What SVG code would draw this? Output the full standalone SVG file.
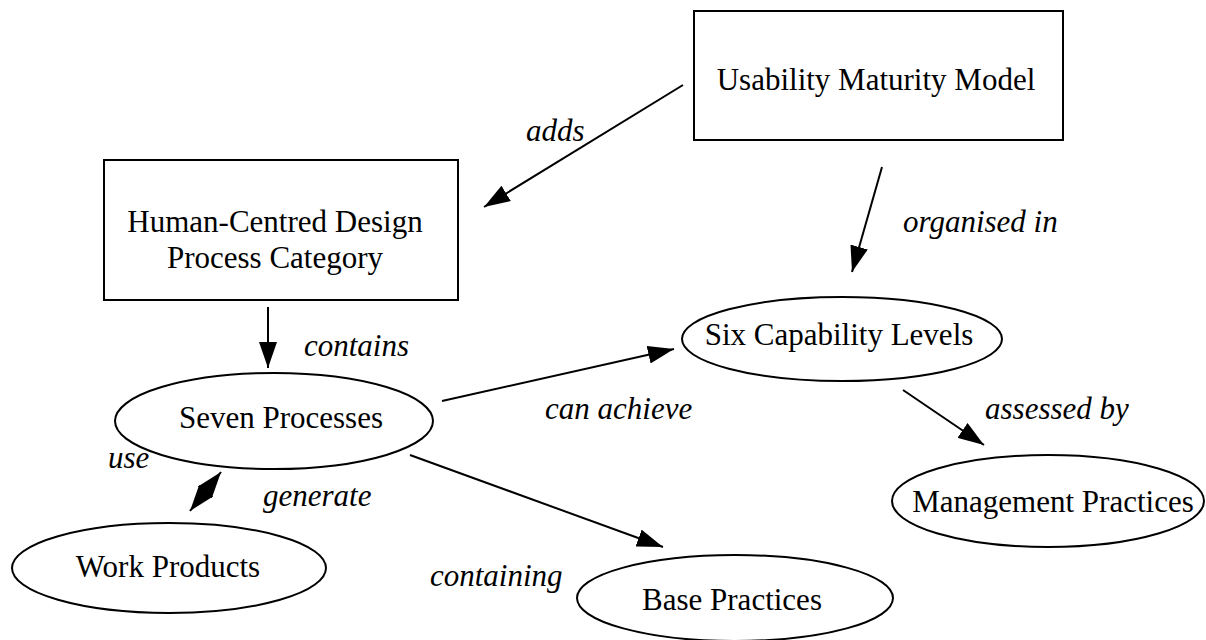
<svg xmlns="http://www.w3.org/2000/svg" width="1206" height="640" viewBox="0 0 1206 640">
<style>
.n{fill:#fff;stroke:#000;stroke-width:2}
.t{font-family:"Liberation Serif","Times New Roman",serif;font-size:31px;fill:#000;text-anchor:middle}
.l{font-family:"Liberation Serif","Times New Roman",serif;font-size:31px;font-style:italic;fill:#000}
.e{stroke:#000;stroke-width:2;fill:none;marker-end:url(#ah)}
</style>
<defs>
<marker id="ah" viewBox="0 0 26 18" refX="26" refY="9" markerWidth="26" markerHeight="18" markerUnits="userSpaceOnUse" orient="auto-start-reverse">
<path d="M0,0 L26,9 L0,18 z" fill="#000"/>
</marker>
</defs>
<rect width="1206" height="640" fill="#fff"/>
<g id="connectors">
<line class="e" x1="683" y1="85" x2="484" y2="207"/>
<line class="e" x1="882" y1="167" x2="852" y2="272"/>
<line class="e" x1="268" y1="307" x2="268" y2="368"/>
<line class="e" x1="442" y1="401" x2="674" y2="349"/>
<line class="e" x1="903" y1="390" x2="984" y2="445"/>
<line class="e" x1="410" y1="455" x2="663" y2="547"/>
<line class="e" x1="221" y1="472" x2="190" y2="511" style="marker-start:url(#ah)"/>
<text class="l" x="526" y="141">adds</text>
<text class="l" x="903" y="232">organised in</text>
<text class="l" x="304" y="356">contains</text>
<text class="l" x="545" y="419">can achieve</text>
<text class="l" x="985" y="419">assessed by</text>
<text class="l" x="108" y="468">use</text>
<text class="l" x="263" y="506">generate</text>
<text class="l" x="430" y="586">containing</text>
</g>
<g id="umm">
<rect class="n" x="694" y="11" width="369" height="129"/>
<text class="t" x="876" y="90">Usability Maturity Model</text>
</g>
<g id="hcd">
<rect class="n" x="104" y="160" width="354" height="140"/>
<text class="t" x="275" y="232">Human-Centred Design</text>
<text class="t" x="275" y="268">Process Category</text>
</g>
<g id="seven">
<ellipse class="n" cx="274" cy="421" rx="159" ry="48"/>
<text class="t" x="281" y="428">Seven Processes</text>
</g>
<g id="six">
<ellipse class="n" cx="842" cy="339" rx="160" ry="42"/>
<text class="t" x="839" y="345">Six Capability Levels</text>
</g>
<g id="mgmt">
<ellipse class="n" cx="1048" cy="501" rx="156" ry="46"/>
<text class="t" x="1053" y="512">Management Practices</text>
</g>
<g id="work">
<ellipse class="n" cx="169" cy="568" rx="157" ry="45"/>
<text class="t" x="168" y="577">Work Products</text>
</g>
<g id="base">
<ellipse class="n" cx="735" cy="598" rx="158" ry="43"/>
<text class="t" x="732" y="610">Base Practices</text>
</g>
</svg>
